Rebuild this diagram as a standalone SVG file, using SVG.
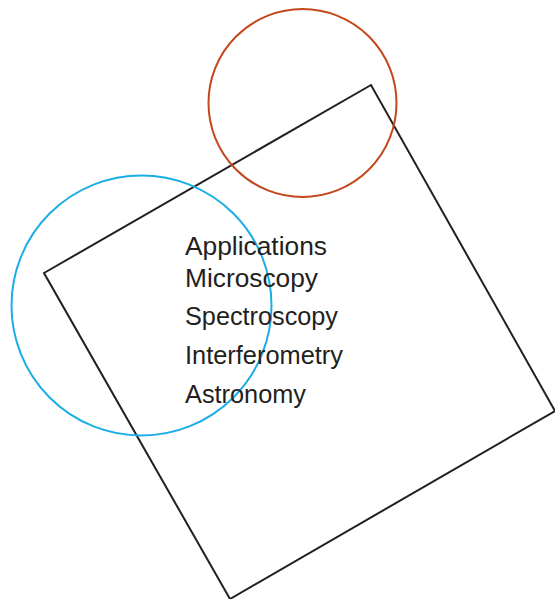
<svg xmlns="http://www.w3.org/2000/svg" width="555" height="599" viewBox="0 0 555 599">
<style>
.t{font-family:"Liberation Sans",Arial,sans-serif;font-size:25px;fill:#231f20}
</style>
<rect width="555" height="599" fill="#fff"/>
<g id="square"><polygon points="44,273 371,85 555,411 230,599" fill="none" stroke="#231f20" stroke-width="2"/></g>
<g id="circle-orange"><circle cx="302.5" cy="103" r="94" fill="none" stroke="#c4471d" stroke-width="2"/></g>
<g id="circle-blue"><circle cx="141.5" cy="305.5" r="130" fill="none" stroke="#1bade6" stroke-width="2"/></g>
<g id="labels">
<text class="t" x="185" y="255" textLength="142" lengthAdjust="spacingAndGlyphs">Applications</text>
<text class="t" x="185" y="287" textLength="133" lengthAdjust="spacingAndGlyphs">Microscopy</text>
<text class="t" x="185" y="325" textLength="153" lengthAdjust="spacingAndGlyphs">Spectroscopy</text>
<text class="t" x="185" y="364" textLength="158" lengthAdjust="spacingAndGlyphs">Interferometry</text>
<text class="t" x="185" y="403" textLength="121" lengthAdjust="spacingAndGlyphs">Astronomy</text>
</g>
</svg>
